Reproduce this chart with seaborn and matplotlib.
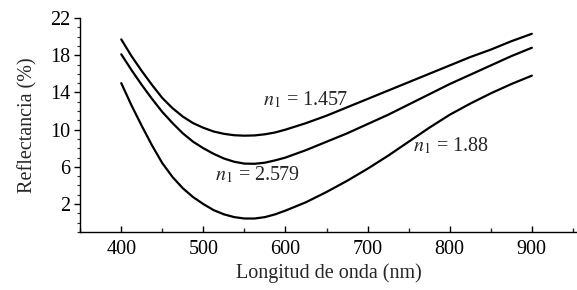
import numpy as np
import pandas as pd
import matplotlib
matplotlib.use("Agg")
import matplotlib.pyplot as plt
from matplotlib.ticker import MultipleLocator
import seaborn as sns

# wavelength grid (nm) and reflectance (%)
wavelength = [400, 412.5, 425, 437.5, 450, 462.5, 475, 487.5, 500, 512.5,
              525, 537.5, 550, 562.5, 575, 587.5, 600, 625, 650, 675, 700,
              725, 750, 775, 800, 825, 850, 875, 900]
r_1457 = [19.7, 17.9, 16.3, 14.8, 13.4, 12.3, 11.4, 10.7, 10.2, 9.8,
          9.55, 9.4, 9.35, 9.38, 9.5, 9.7, 10.0, 10.7, 11.5, 12.4, 13.3,
          14.2, 15.1, 16.0, 16.9, 17.8, 18.6, 19.5, 20.3]
r_2579 = [18.1, 16.4, 14.8, 13.3, 11.9, 10.7, 9.6, 8.7, 8.0, 7.4,
          6.9, 6.55, 6.35, 6.33, 6.45, 6.7, 7.0, 7.8, 8.7, 9.6, 10.6,
          11.6, 12.7, 13.8, 14.9, 15.9, 16.9, 17.9, 18.8]
r_188 = [15.0, 12.6, 10.4, 8.3, 6.4, 4.9, 3.7, 2.75, 2.0, 1.35,
         0.9, 0.6, 0.45, 0.45, 0.6, 0.9, 1.3, 2.2, 3.3, 4.5, 5.8,
         7.2, 8.7, 10.2, 11.6, 12.8, 13.9, 14.9, 15.8]
series_names = ["1.457", "2.579", "1.88"]

df = pd.concat([
    pd.DataFrame({"wl": wavelength, "R": vals, "n1": name})
    for name, vals in zip(series_names, [r_1457, r_2579, r_188])
])

sns.set_theme(style="ticks")
plt.rcParams["font.family"] = ["Liberation Serif", "DejaVu Serif"]
plt.rcParams["mathtext.fontset"] = "stix"

fig = plt.figure(figsize=(5.77, 2.90), dpi=100)
ax = fig.add_axes([0.139, 0.20, 0.861, 0.738])

sns.lineplot(data=df, x="wl", y="R", hue="n1", palette=["black"] * 3,
             linewidth=1.6, legend=False, ax=ax, sort=False)

ax.set_xlim(350, 955)
ax.set_ylim(-1, 22)
ax.set_xticks([400, 500, 600, 700, 800, 900])
ax.xaxis.set_minor_locator(MultipleLocator(50))
ax.set_yticks([2, 6, 10, 14, 18, 22])
ax.yaxis.set_minor_locator(MultipleLocator(1))

sns.despine(ax=ax)
for s in ["left", "bottom"]:
    ax.spines[s].set_linewidth(1.0)
    ax.spines[s].set_color("black")

ax.tick_params(axis="x", which="major", direction="in", length=4, width=1,
               labelsize=14.5, pad=6, colors="black")
ax.tick_params(axis="x", which="minor", direction="in", length=3, width=1)
ax.tick_params(axis="y", which="major", direction="out", length=4, width=1,
               labelsize=14.5, pad=3, colors="black")
ax.tick_params(axis="y", which="minor", direction="out", length=2.5, width=0.8)

ax.set_xlabel("Longitud de onda (nm)", fontsize=14.5, labelpad=3)
ax.set_ylabel("Reflectancia (%)", fontsize=14.5, labelpad=9)

ax.text(573, 13.2, r"$n_1$ = 1.457", fontsize=14.5, va="center", ha="left")
ax.text(514, 5.1, r"$n_1$ = 2.579", fontsize=14.5, va="center", ha="left")
ax.text(755, 8.2, r"$n_1$ = 1.88", fontsize=14.5, va="center", ha="left")

fig.savefig("out.png", dpi=100, facecolor="white")
